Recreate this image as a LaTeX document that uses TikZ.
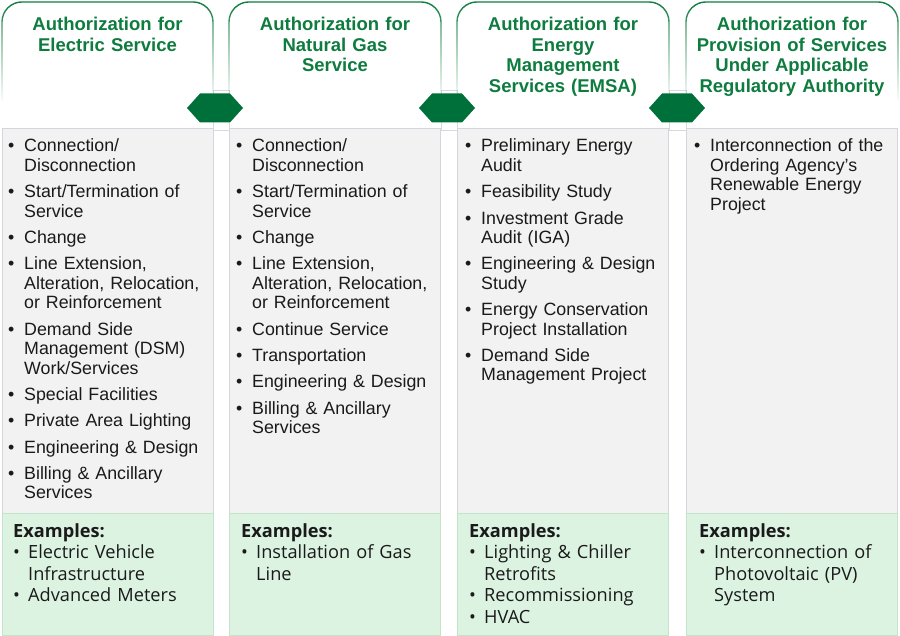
\documentclass[tikz,border=0pt]{standalone}
\usepackage{fontspec}
\setmainfont{Liberation Sans}
\newfontfamily\exfont{Open Sans}
\usetikzlibrary{positioning, calc, fadings, shapes.symbols}
\definecolor{hdrg}{HTML}{0E7C3E}
\definecolor{hexg}{HTML}{00703A}
\definecolor{panelc}{HTML}{F2F2F2}
\definecolor{paneld}{HTML}{D3D7DD}
\definecolor{exc}{HTML}{DDF3E2}
\definecolor{exd}{HTML}{C3E4CB}
\definecolor{txtc}{HTML}{1A1A1A}
\tikzfading[name=hdrfade, top color=transparent!0, bottom color=transparent!95]
\newcommand{\bul}[1]{\hangindent=16pt\hangafter=1\noindent
  \makebox[16pt][l]{\textbullet}{\let\\\newline #1}\par\vspace{6.8pt}}
\newcommand{\exbul}[1]{\par\hangindent=15pt\hangafter=1\noindent
  \makebox[15pt][l]{\textbullet}{\let\\\newline #1}\par}
\newcommand{\hdr}[4]{%
  \draw[hdrline] (#2,100) -- (#2,2) -- (#3,2) -- (#3,100);
  \node[hdrtext] (#1) at ({(#2+#3)/2},31) {#4};
}

\begin{document}
\begin{tikzpicture}[x=1pt, y=-1pt,
    hdrline/.style={draw=hdrg, line width=1.4pt, rounded corners=20pt,
                    path fading=hdrfade},
    hdrtext/.style={anchor=base, text width=205pt, align=center, text=hdrg,
                    font=\bfseries\fontsize{18.5}{20.5}\selectfont},
    panel/.style={draw=paneld, fill=panelc, line width=0.8pt, anchor=north west,
                  minimum width=211pt, minimum height=385pt, inner sep=0pt},
    expanel/.style={draw=exd, fill=exc, line width=0.8pt, anchor=north west,
                    minimum width=211pt, minimum height=122pt, inner sep=0pt},
    items/.style={anchor=base west, text width=205pt, inner sep=0pt, text=txtc,
                  font=\fontsize{17.8}{19.5}\selectfont},
    exitems/.style={anchor=base west, text width=200pt, inner sep=0pt, text=txtc,
                    font=\exfont\fontsize{18.2}{21.5}\selectfont},
    joint/.style={signal, signal to=east and west, signal pointer angle=96,
                  fill=hexg, minimum width=56pt, minimum height=29pt, inner sep=0pt},
    gapstrip/.style={draw=black!15, fill=white, line width=0.8pt}]
  \useasboundingbox (0,0) rectangle (900,636);
  % strips between the headers
  \draw[gapstrip] (213,90) rectangle (229,130);
  \draw[gapstrip] (441,90) rectangle (457,130);
  \draw[gapstrip] (669,90) rectangle (686,130);
  % headers
  \hdr{h1}{2}{213}{Authorization for\\Electric Service}
  \hdr{h2}{229}{441}{Authorization for\\Natural Gas\\Service}
  \hdr{h3}{457}{669}{Authorization for\\Energy\\Management\\Services (EMSA)}
  \hdr{h4}{686}{898}{Authorization for\\Provision of Services\\Under Applicable\\Regulatory Authority}
  % panels
  \node[panel] (p1) at (2,128) {};
  \node[panel] (p2) at (229,128) {};
  \node[panel] (p3) at (457,128) {};
  \node[panel] (p4) at (686,128) {};
  \node[expanel] (e1) at (2,513) {};
  \node[expanel] (e2) at (229,513) {};
  \node[expanel] (e3) at (457,513) {};
  \node[expanel] (e4) at (686,513) {};
  % joints
  \node[joint] (j12) at (215,108) {};
  \node[joint] (j23) at (447,108) {};
  \node[joint] (j34) at (677,108) {};
  % service lists
  \node[items] (l1) at ([xshift=6pt, yshift=-24pt]p1.north west) {%
    \bul{Connection/\\Disconnection}
    \bul{Start/Termination of\\Service}
    \bul{Change}
    \bul{Line Extension,\\Alteration, Relocation,\\or Reinforcement}
    \bul{Demand Side\\Management (DSM)\\Work/Services}
    \bul{Special Facilities}
    \bul{Private Area Lighting}
    \bul{Engineering \& Design}
    \bul{Billing \& Ancillary\\Services}};
  \node[items] (l2) at ([xshift=7pt, yshift=-24pt]p2.north west) {%
    \bul{Connection/\\Disconnection}
    \bul{Start/Termination of\\Service}
    \bul{Change}
    \bul{Line Extension,\\Alteration, Relocation,\\or Reinforcement}
    \bul{Continue Service}
    \bul{Transportation}
    \bul{Engineering \& Design}
    \bul{Billing \& Ancillary\\Services}};
  \node[items] (l3) at ([xshift=8pt, yshift=-24pt]p3.north west) {%
    \bul{Preliminary Energy\\Audit}
    \bul{Feasibility Study}
    \bul{Investment Grade\\Audit (IGA)}
    \bul{Engineering \& Design\\Study}
    \bul{Energy Conservation\\Project Installation}
    \bul{Demand Side\\Management Project}};
  \node[items] (l4) at ([xshift=8pt, yshift=-24pt]p4.north west) {%
    \bul{Interconnection of the\\Ordering Agency's\\Renewable Energy\\Project}};
  % examples
  \node[exitems] (x1) at ([xshift=11pt, yshift=-24pt]e1.north west) {%
    \textbf{Examples:}
    \exbul{Electric Vehicle\\Infrastructure}
    \exbul{Advanced Meters}};
  \node[exitems] (x2) at ([xshift=12pt, yshift=-24pt]e2.north west) {%
    \textbf{Examples:}
    \exbul{Installation of Gas\\Line}};
  \node[exitems] (x3) at ([xshift=12pt, yshift=-24pt]e3.north west) {%
    \textbf{Examples:}
    \exbul{Lighting \& Chiller\\Retrofits}
    \exbul{Recommissioning}
    \exbul{HVAC}};
  \node[exitems] (x4) at ([xshift=13pt, yshift=-24pt]e4.north west) {%
    \textbf{Examples:}
    \exbul{Interconnection of\\Photovoltaic (PV)\\System}};
\end{tikzpicture}
\end{document}
